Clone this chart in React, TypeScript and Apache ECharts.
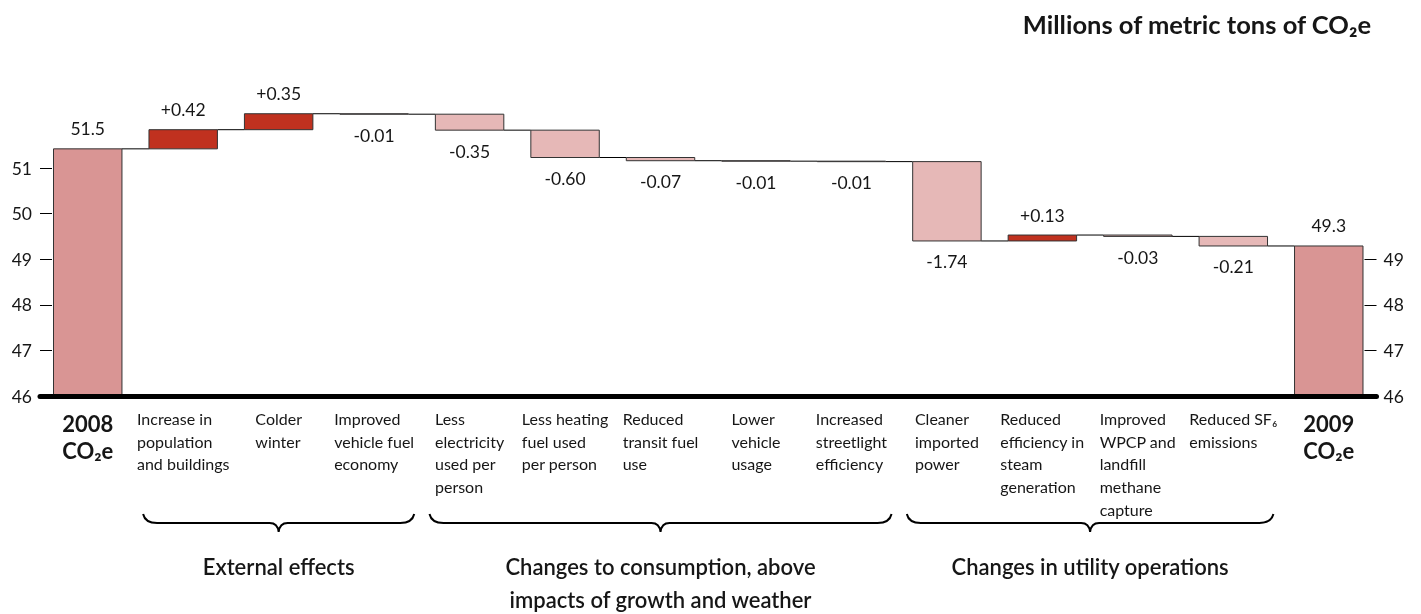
import React, { useEffect, useRef } from "react";
import * as echarts from "echarts";

const FONT = 'Lato, "Noto Sans", "DejaVu Sans", sans-serif';
const TEXT = "#161616";

// ---------------- data ----------------
const categories = [
  "2008 CO₂e",
  "Increase in population and buildings",
  "Colder winter",
  "Improved vehicle fuel economy",
  "Less electricity used per person",
  "Less heating fuel used per person",
  "Reduced transit fuel use",
  "Lower vehicle usage",
  "Increased streetlight efficiency",
  "Cleaner imported power",
  "Reduced efficiency in steam generation",
  "Improved WPCP and landfill methane capture",
  "Reduced SF₆ emissions",
  "2009 CO₂e",
];
const categoryLabels = [
  "2008\nCO₂e",
  "Increase in\npopulation\nand buildings",
  "Colder\nwinter",
  "Improved\nvehicle fuel\neconomy",
  "Less\nelectricity\nused per\nperson",
  "Less heating\nfuel used\nper person",
  "Reduced\ntransit fuel\nuse",
  "Lower\nvehicle\nusage",
  "Increased\nstreetlight\nefficiency",
  "Cleaner\nimported\npower",
  "Reduced\nefficiency in\nsteam\ngeneration",
  "Improved\nWPCP and\nlandfill\nmethane\ncapture",
  "Reduced SF₆\nemissions",
  "2009\nCO₂e",
];
const startValue = 51.42;
const changes = [0.42, 0.35, -0.01, -0.35, -0.6, -0.07, -0.01, -0.01, -1.74, 0.13, -0.03, -0.21];
const totalLabels = ["51.5", "49.3"];
const leftTicks = [46, 47, 48, 49, 50, 51];
const rightTicks = [46, 47, 48, 49];
const groupNames = ["External effects", "Changes to consumption, above\nimpacts of growth and weather", "Changes in utility operations"];
const groupFrom = [1, 4, 9];
const groupTo = [3, 8, 12];

const Y_MIN = 46;
const Y_MAX = 53;

const COLOR_TOTAL = "#d99594";
const COLOR_UP = "#c0311f";
const COLOR_DOWN = "#e6b8b7";

// running levels
const levels: number[] = [startValue];
changes.forEach((c) => levels.push(levels[levels.length - 1] + c));
const endValue = levels[levels.length - 1];

const barData: number[][] = [];
barData.push([0, Y_MIN, startValue]);
changes.forEach((c, k) => {
  const a = levels[k];
  const b = levels[k + 1];
  barData.push([k + 1, Math.min(a, b), Math.max(a, b)]);
});
barData.push([categories.length - 1, Y_MIN, endValue]);

const valueLabels = [
  totalLabels[0],
  ...changes.map((c) => (c > 0 ? "+" : "") + c.toFixed(2)),
  totalLabels[1],
];

let measureCtx: CanvasRenderingContext2D | null = null;
function textWidth(t: string, font: string) {
  if (!measureCtx) measureCtx = document.createElement("canvas").getContext("2d");
  if (!measureCtx) return t.length * 8;
  measureCtx.font = font;
  return measureCtx.measureText(t).width;
}

export default function App() {
  const ref = useRef<HTMLDivElement>(null);
  useEffect(() => {
    if (!ref.current) return;
    const chart = echarts.init(ref.current, null, { renderer: "svg" });
    const n = categories.length;

    const option: any = {
      animation: false,
      title: {
        text: "Millions of metric tons of CO₂e",
        right: 44,
        top: 6,
        textStyle: { fontFamily: FONT, fontSize: 25.5, fontWeight: "bold", color: TEXT },
      },
      grid: { left: 40, right: 44.5, top: 76.8, bottom: 218 },
      xAxis: {
        type: "category",
        data: categories,
        z: 10,
        axisLine: { show: true, lineStyle: { color: "#000", width: 5 } },
        axisTick: { show: false },
        axisLabel: { show: false },
        splitLine: { show: false },
      },
      yAxis: [
        {
          type: "value",
          position: "left",
          min: Y_MIN,
          max: Y_MAX,
          interval: 1,
          axisLine: { show: false },
          splitLine: { show: false },
          axisTick: { show: true, inside: true, length: 12, lineStyle: { color: "#000", width: 1 }, customValues: leftTicks.slice(1) },
          axisLabel: { margin: 8, customValues: leftTicks, fontFamily: FONT, fontSize: 17.5, color: TEXT },
        },
        {
          type: "value",
          position: "right",
          min: Y_MIN,
          max: Y_MAX,
          interval: 1,
          axisLine: { show: false },
          splitLine: { show: false },
          axisTick: { show: true, inside: true, length: 12, lineStyle: { color: "#000", width: 1 }, customValues: rightTicks.slice(1) },
          axisLabel: { margin: 7, customValues: rightTicks, fontFamily: FONT, fontSize: 17.5, color: TEXT },
        },
      ],
      series: [
        {
          type: "custom",
          name: "waterfall",
          clip: false,
          yAxisIndex: 0,
          encode: { x: 0, y: [1, 2] },
          data: barData,
          renderItem: (params: any, api: any) => {
            const i = api.value(0) as number;
            const lo = api.value(1) as number;
            const hi = api.value(2) as number;
            const band = api.size([1, 0])[0];
            const barW = band * 0.717;
            const pHi = api.coord([i, hi]);
            const pLo = api.coord([i, lo]);
            const cx = pHi[0];
            const isTotal = i === 0 || i === n - 1;
            const ch = isTotal ? 0 : changes[i - 1];
            const fill = isTotal ? COLOR_TOTAL : ch > 0 ? COLOR_UP : COLOR_DOWN;
            const children: any[] = [];
            children.push({
              type: "rect",
              shape: { x: cx - barW / 2, y: pHi[1], width: barW, height: Math.max(pLo[1] - pHi[1], 0.5) },
              style: { fill, stroke: "#333", lineWidth: 1 },
              z2: 1,
            });
            if (i < n - 1) {
              const pc = api.coord([i, levels[i]]);
              children.push({
                type: "line",
                shape: { x1: cx + barW / 2, y1: pc[1], x2: cx + band - barW / 2, y2: pc[1] },
                style: { stroke: "#000", lineWidth: 1 },
              });
            }
            // value label
            const below = !isTotal && ch < 0;
            children.push({
              type: "text",
              x: cx,
              y: below ? pLo[1] + 21 : pHi[1] - 20,
              style: {
                text: valueLabels[i],
                fill: TEXT,
                fontFamily: FONT,
                fontSize: 17.5,
                align: "center",
                verticalAlign: "middle",
              },
            });
            // category label
            const base = api.coord([i, Y_MIN])[1];
            if (isTotal) {
              children.push({
                type: "text",
                x: cx,
                y: base + 14,
                style: {
                  text: categoryLabels[i],
                  fill: TEXT,
                  fontFamily: FONT,
                  fontSize: 22,
                  fontWeight: "bold",
                  lineHeight: 27,
                  align: "center",
                  verticalAlign: "top",
                },
              });
            } else {
              const lines = categoryLabels[i].split("\n");
              const w = Math.max(...lines.map((l) => textWidth(l, `16px ${FONT}`)));
              children.push({
                type: "text",
                x: cx - w / 2,
                y: base + 11,
                style: {
                  text: categoryLabels[i],
                  fill: TEXT,
                  fontFamily: FONT,
                  fontSize: 16,
                  lineHeight: 22.7,
                  align: "left",
                  verticalAlign: "top",
                },
              });
            }
            return { type: "group", children };
          },
        },
        {
          type: "custom",
          name: "braces",
          clip: false,
          yAxisIndex: 0,
          encode: { x: [0, 1], y: 2 },
          data: groupFrom.map((f, k) => [f, groupTo[k], Y_MIN]),
          renderItem: (params: any, api: any) => {
            const k = params.dataIndex;
            const band = api.size([1, 0])[0];
            const p0 = api.coord([api.value(0), Y_MIN]);
            const p1 = api.coord([api.value(1), Y_MIN]);
            const pad = band * 0.42;
            const xL = p0[0] - pad;
            const xR = p1[0] + pad;
            const xT = (xL + xR) / 2;
            const base = p0[1];
            const yTop = base + 118;
            const yMid = base + 127;
            const yTip = base + 136;
            const r = 14;
            const d =
              `M ${xL} ${yTop} Q ${xL + 2} ${yMid} ${xL + r} ${yMid} ` +
              `L ${xT - 9} ${yMid} Q ${xT - 1} ${yMid} ${xT} ${yTip} ` +
              `Q ${xT + 1} ${yMid} ${xT + 9} ${yMid} ` +
              `L ${xR - r} ${yMid} Q ${xR - 2} ${yMid} ${xR} ${yTop}`;
            return {
              type: "group",
              children: [
                {
                  type: "path",
                  shape: { pathData: d },
                  style: { fill: "none", stroke: "#000", lineWidth: 2 },
                },
                {
                  type: "text",
                  x: xT,
                  y: base + 154,
                  style: {
                    text: groupNames[k],
                    fill: TEXT,
                    fontFamily: FONT,
                    fontSize: 22,
                    fontWeight: 600,
                    lineHeight: 33,
                    align: "center",
                    verticalAlign: "top",
                  },
                },
              ],
            };
          },
        },
      ],
    };
    chart.setOption(option);
    return () => chart.dispose();
  }, []);
  return <div ref={ref} style={{ position: "fixed", left: 0, top: 0, width: 1421, height: 614 }} />;
}
